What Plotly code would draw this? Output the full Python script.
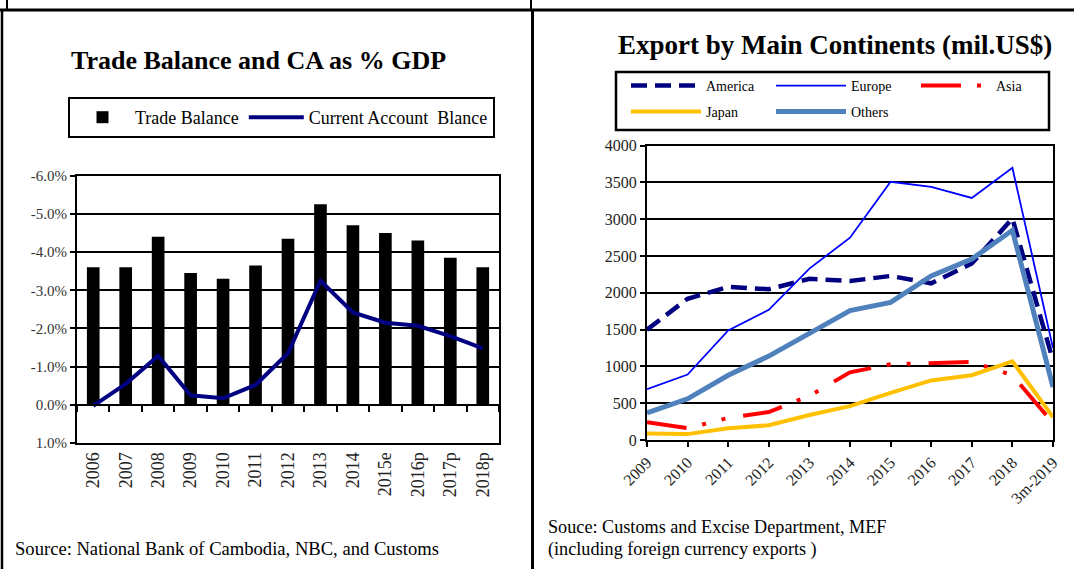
import plotly.graph_objects as go

W, H = 1074, 569

# ---------------- Left chart data ----------------
tb_years = ["2006", "2007", "2008", "2009", "2010", "2011", "2012",
            "2013", "2014", "2015e", "2016p", "2017p", "2018p"]
trade_balance = [-3.6, -3.6, -4.4, -3.45, -3.3, -3.65, -4.35,
                 -5.25, -4.7, -4.5, -4.3, -3.85, -3.6]
current_account = [0.03, -0.55, -1.28, -0.25, -0.17, -0.52, -1.35,
                   -3.25, -2.42, -2.15, -2.07, -1.8, -1.48]
pct_ticks = [-6, -5, -4, -3, -2, -1, 0, 1]
pct_labels = ["-6.0%", "-5.0%", "-4.0%", "-3.0%", "-2.0%", "-1.0%", "0.0%", "1.0%"]

# ---------------- Right chart data ----------------
exp_years = ["2009", "2010", "2011", "2012", "2013", "2014", "2015",
             "2016", "2017", "2018", "3m-2019"]
america = [1500, 1920, 2080, 2050, 2190, 2160, 2230, 2130, 2400, 3010, 1080]
europe = [690, 890, 1490, 1770, 2330, 2750, 3510, 3440, 3290, 3700, 1250]
asia = [240, 160, 300, 380, 600, 920, 1030, 1040, 1060, 880, 230]
japan = [90, 80, 160, 200, 340, 460, 640, 810, 880, 1070, 310]
others = [370, 560, 880, 1140, 1450, 1760, 1870, 2230, 2460, 2850, 720]
usd_ticks = [0, 500, 1000, 1500, 2000, 2500, 3000, 3500, 4000]
usd_labels = ["0", "500", "1000", "1500", "2000", "2500", "3000", "3500", "4000"]

FONT = "Liberation Serif"

def px_x(v):
    return v / W

def px_y(v):
    return 1 - v / H

# plot-area geometry (pixels)
L_X0, L_X1, L_Y0, L_Y1 = 77, 499, 175.7, 443
R_X0, R_X1, R_Y0, R_Y1 = 647, 1053, 145.7, 440

left_ydom = [px_y(L_Y1), px_y(L_Y0)]
left_range = [pct_ticks[-1], pct_ticks[0]]  # reversed axis: 1 at bottom, -6 at top
zero_pos = left_ydom[0] + (left_ydom[1] - left_ydom[0]) * (left_range[0] - 0) / (left_range[0] - left_range[1])

fig = go.Figure()

fig.add_trace(go.Bar(
    x=tb_years, y=trade_balance, name="Trade Balance",
    marker=dict(color="black", line=dict(width=0)), width=0.39,
    xaxis="x", yaxis="y", legend="legend"))
fig.add_trace(go.Scatter(
    x=tb_years, y=current_account, name="Current Account\u00a0 Blance",
    mode="lines", line=dict(color="#000080", width=4),
    xaxis="x3", yaxis="y", legend="legend"))

fig.add_trace(go.Scatter(
    x=exp_years, y=america, name="America", mode="lines",
    line=dict(color="#000080", width=4.5, dash="16px,8px"),
    xaxis="x2", yaxis="y2", legend="legend2"))
fig.add_trace(go.Scatter(
    x=exp_years, y=europe, name="Europe", mode="lines",
    line=dict(color="#0000FF", width=1.8),
    xaxis="x2", yaxis="y2", legend="legend2"))
fig.add_trace(go.Scatter(
    x=exp_years, y=asia, name="Asia", mode="lines",
    line=dict(color="#FF0000", width=4, dash="40px,16px,4px,16px,4px,18px"),
    xaxis="x2", yaxis="y2", legend="legend2"))
fig.add_trace(go.Scatter(
    x=exp_years, y=japan, name="Japan", mode="lines",
    line=dict(color="#FFC000", width=4),
    xaxis="x2", yaxis="y2", legend="legend3"))
fig.add_trace(go.Scatter(
    x=exp_years, y=others, name="Others", mode="lines",
    line=dict(color="#4F81BD", width=5),
    xaxis="x2", yaxis="y2", legend="legend3"))

frame = dict(showline=True, mirror=True, linecolor="black", linewidth=2, automargin=False)

fig.update_layout(
    template="none",
    width=W, height=H, margin=dict(l=0, r=0, t=0, b=0, pad=0, autoexpand=False),
    paper_bgcolor="white", plot_bgcolor="white",
    font=dict(family=FONT, color="black"),
    showlegend=True,
    xaxis=dict(domain=[px_x(L_X0), px_x(L_X1)], anchor="y", type="category",
               range=[-0.5, len(tb_years) - 0.5], tickangle=-90, ticks="",
               tickfont=dict(size=18, color="#222"), showgrid=False, **frame),
    xaxis3=dict(overlaying="x", anchor="free", position=zero_pos, type="category",
                range=[-0.5, len(tb_years) - 0.5], showline=True, linecolor="black",
                linewidth=2, ticks="outside", ticklen=6, tickwidth=2, tickcolor="black",
                tickson="boundaries", showticklabels=False, showgrid=False,
                automargin=False),
    yaxis=dict(domain=left_ydom, anchor="x", range=left_range,
               tickvals=pct_ticks, ticktext=pct_labels, showgrid=True,
               gridcolor="black", gridwidth=1.5, zeroline=False,
               ticks="outside", ticklen=5, tickcolor="black", tickwidth=1.5,
               tickfont=dict(size=15, color="#333"), **frame),
    xaxis2=dict(domain=[px_x(R_X0), px_x(R_X1)], anchor="y2", type="category",
                range=[0, len(exp_years) - 1], tickangle=-45, ticks="outside",
                ticklen=5, tickwidth=2, tickcolor="black",
                tickfont=dict(size=16, color="#222"), showgrid=False, **frame),
    yaxis2=dict(domain=[px_y(R_Y1), px_y(R_Y0)], anchor="x2",
                range=[usd_ticks[0], usd_ticks[-1]], tickvals=usd_ticks,
                ticktext=usd_labels, showgrid=True, gridcolor="black",
                gridwidth=1.5, zeroline=False, ticks="outside", ticklen=5,
                tickcolor="black", tickwidth=1.5,
                tickfont=dict(size=16, color="#222"), **frame),
    legend=dict(orientation="h", x=px_x(68), y=px_y(97), xanchor="left", yanchor="top",
                bordercolor="black", borderwidth=2, bgcolor="white",
                font=dict(size=18, family=FONT), itemwidth=55, tracegroupgap=0),
    legend2=dict(orientation="h", x=px_x(626), y=px_y(70), xanchor="left", yanchor="top",
                 bgcolor="rgba(0,0,0,0)", font=dict(size=14, family=FONT),
                 itemwidth=70, entrywidth=60, entrywidthmode="pixels"),
    legend3=dict(orientation="h", x=px_x(626), y=px_y(96), xanchor="left", yanchor="top",
                 bgcolor="rgba(0,0,0,0)", font=dict(size=14, family=FONT),
                 itemwidth=70, entrywidth=60, entrywidthmode="pixels"),
)

# titles and sources
fig.add_annotation(text="<b>Trade Balance and CA as % GDP</b>", xref="paper", yref="paper",
                   x=px_x(258), y=px_y(60), xanchor="center", yanchor="middle",
                   showarrow=False, font=dict(size=26, family=FONT))
fig.add_annotation(text="<b>Export by Main Continents (mil.US$)</b>", xref="paper", yref="paper",
                   x=px_x(835), y=px_y(45), xanchor="center", yanchor="middle",
                   showarrow=False, font=dict(size=27, family=FONT))
fig.add_annotation(text="Source: National Bank of Cambodia, NBC, and Customs", xref="paper",
                   yref="paper", x=px_x(13), y=px_y(548), xanchor="left", yanchor="middle",
                   showarrow=False, font=dict(size=18.6, family=FONT))
fig.add_annotation(text="Souce: Customs and Excise Department, MEF", xref="paper",
                   yref="paper", x=px_x(546), y=px_y(527), xanchor="left", yanchor="middle",
                   showarrow=False, font=dict(size=18.2, family=FONT))
fig.add_annotation(text="(including foreign currency exports )", xref="paper",
                   yref="paper", x=px_x(546), y=px_y(549), xanchor="left", yanchor="middle",
                   showarrow=False, font=dict(size=18.2, family=FONT))

# panel frames and right legend box
def pline(x0, y0, x1, y1, w):
    fig.add_shape(type="line", xref="paper", yref="paper",
                  x0=px_x(x0), y0=px_y(y0), x1=px_x(x1), y1=px_y(y1),
                  line=dict(color="black", width=w))

pline(0, 10, W, 10, 3)
pline(7, 0, 7, 10, 2)
pline(531, 0, 531, 10, 2)
pline(2, 10, 2, H, 2.5)
pline(532.5, 10, 532.5, H, 3)
fig.add_shape(type="rect", xref="paper", yref="paper",
              x0=px_x(616), y0=px_y(130), x1=px_x(1049), y1=px_y(72),
              line=dict(color="black", width=2.5))

fig.write_html("out.html", config={"displayModeBar": False},
               post_script="document.body.style.margin='0px';")
